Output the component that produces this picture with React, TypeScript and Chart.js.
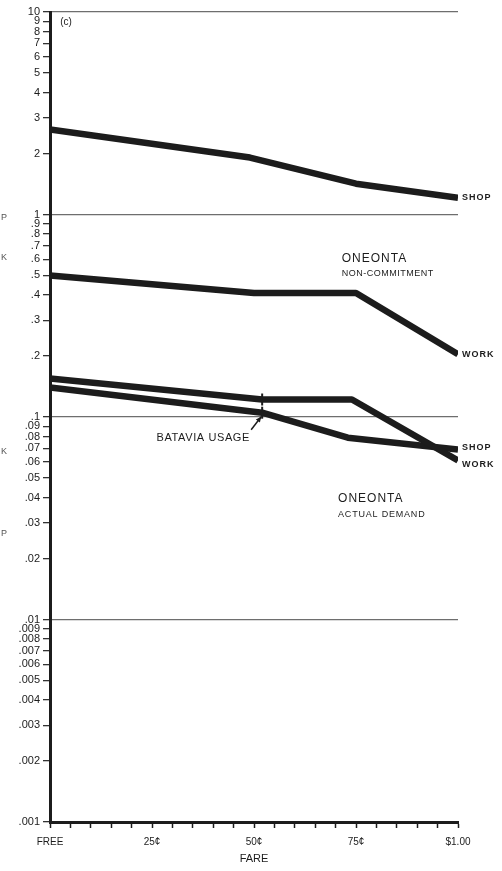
import React, { useEffect, useRef } from "react";
import { Chart, registerables } from "chart.js";

Chart.register(...registerables);

// ---- data ----
const xTickValues = [0, 5, 10, 15, 20, 25, 30, 35, 40, 45, 50, 55, 60, 65, 70, 75, 80, 85, 90, 95, 100];
const xTickLabelMap: Record<number, string> = { 0: "FREE", 25: "25¢", 50: "50¢", 75: "75¢", 100: "$1.00" };

const yTickValues = [
  0.001, 0.002, 0.003, 0.004, 0.005, 0.006, 0.007, 0.008, 0.009,
  0.01, 0.02, 0.03, 0.04, 0.05, 0.06, 0.07, 0.08, 0.09,
  0.1, 0.2, 0.3, 0.4, 0.5, 0.6, 0.7, 0.8, 0.9,
  1, 2, 3, 4, 5, 6, 7, 8, 9, 10,
];
const yTickLabels = [
  ".001", ".002", ".003", ".004", ".005", ".006", ".007", ".008", ".009",
  ".01", ".02", ".03", ".04", ".05", ".06", ".07", ".08", ".09",
  ".1", ".2", ".3", ".4", ".5", ".6", ".7", ".8", ".9",
  "1", "2", "3", "4", "5", "6", "7", "8", "9", "10",
];

// Oneonta non-commitment
const faresShopNC = [0, 49, 75, 100];
const valuesShopNC = [2.63, 1.91, 1.42, 1.21];
const faresWorkNC = [0, 50, 75, 100];
const valuesWorkNC = [0.5, 0.41, 0.41, 0.204];
// Oneonta actual demand
const faresWorkAD = [0, 52, 74, 100];
const valuesWorkAD = [0.155, 0.122, 0.122, 0.061];
const faresShopAD = [0, 52, 73, 100];
const valuesShopAD = [0.14, 0.105, 0.079, 0.069];
// Batavia usage marks
const faresBatavia = [52, 52];
const valuesBatavia = [0.122, 0.105];

const toPts = (xs: number[], ys: number[]) => xs.map((x, i) => ({ x, y: ys[i] }));

const FONT = "'Liberation Sans', Arial, sans-serif";
const INK = "#1c1c1c";

const annotationPlugin = {
  id: "annotations",
  afterDatasetsDraw(chart: any) {
    const ctx = chart.ctx as CanvasRenderingContext2D;
    const xs = chart.scales.x;
    const ys = chart.scales.y;
    const px = (v: number) => xs.getPixelForValue(v);
    const py = (v: number) => ys.getPixelForValue(v);
    ctx.save();
    ctx.fillStyle = INK;
    ctx.textBaseline = "middle";

    const text = (t: string, x: number, y: number, size: number, weight = "normal", spacing = "0px", align: CanvasTextAlign = "left") => {
      ctx.font = `${weight} ${size}px ${FONT}`;
      (ctx as any).letterSpacing = spacing;
      ctx.textAlign = align;
      ctx.fillText(t, x, y);
    };

    text("(c)", px(2.5), py(8.9), 10);

    const endX = px(100) + 4;
    text("SHOP", endX, py(valuesShopNC[3]), 9, "bold", "1px");
    text("WORK", endX, py(valuesWorkNC[3]), 9, "bold", "1px");
    text("SHOP", endX, py(0.0707), 9, "bold", "1px");
    text("WORK", endX, py(0.0583), 9, "bold", "1px");

    text("ONEONTA", px(71.5), py(0.607), 12, "normal", "1px");
    text("NON-COMMITMENT", px(71.5), py(0.511), 9, "normal", "0.5px");
    text("ONEONTA", px(70.6), py(0.0396), 12, "normal", "1px");
    text("ACTUAL DEMAND", px(70.6), py(0.033), 9, "normal", "0.8px");

    text("BATAVIA USAGE", px(49), py(0.0792), 11, "normal", "0.6px", "right");

    // arrow to batavia usage
    const bx = px(faresBatavia[1]);
    const by = py(valuesBatavia[1]);
    const x0 = bx - 11, y0 = by + 17, x1 = bx - 1, y1 = by + 4;
    ctx.strokeStyle = INK;
    ctx.lineWidth = 1.5;
    ctx.beginPath();
    ctx.moveTo(x0, y0);
    ctx.lineTo(x1, y1);
    ctx.stroke();
    const ang = Math.atan2(y1 - y0, x1 - x0);
    ctx.beginPath();
    ctx.moveTo(x1, y1);
    ctx.lineTo(x1 - 6 * Math.cos(ang - 0.45), y1 - 6 * Math.sin(ang - 0.45));
    ctx.lineTo(x1 - 6 * Math.cos(ang + 0.45), y1 - 6 * Math.sin(ang + 0.45));
    ctx.closePath();
    ctx.fill();

    // cropped fragments from the neighbouring panel at the left edge
    ctx.fillStyle = "#555";
    text("P", 1, 218, 9);
    text("K", 1, 258, 9);
    text("K", 1, 452, 9);
    text("P", 1, 534, 9);
    ctx.restore();
  },
};

export default function App() {
  const ref = useRef<HTMLCanvasElement | null>(null);

  useEffect(() => {
    if (!ref.current) return;
    const isDecade = (v: number) => Math.abs(Math.log10(v) - Math.round(Math.log10(v))) < 1e-6;
    const lineDs = (data: any[]) => ({
      type: "line" as const,
      data,
      borderColor: INK,
      backgroundColor: INK,
      borderWidth: 6.5,
      pointRadius: 0,
      tension: 0,
      borderJoinStyle: "round" as const,
      fill: false,
    });
    const chart = new Chart(ref.current, {
      type: "line",
      data: {
        datasets: [
          lineDs(toPts(faresShopNC, valuesShopNC)),
          lineDs(toPts(faresWorkNC, valuesWorkNC)),
          lineDs(toPts(faresWorkAD, valuesWorkAD)),
          lineDs(toPts(faresShopAD, valuesShopAD)),
          {
            type: "scatter" as const,
            data: toPts(faresBatavia, valuesBatavia),
            pointStyle: "line",
            rotation: 90,
            pointRadius: 6,
            borderWidth: 2,
            borderColor: INK,
            backgroundColor: INK,
            showLine: false,
          } as any,
        ],
      },
      options: {
        responsive: false,
        animation: false,
        devicePixelRatio: 1,
        layout: { padding: { top: 12, right: 44, left: 0, bottom: 0 } },
        plugins: { legend: { display: false }, tooltip: { enabled: false } },
        scales: {
          x: {
            type: "linear",
            min: 0,
            max: 100,
            afterBuildTicks: (s: any) => {
              s.ticks = xTickValues.map((v) => ({ value: v }));
            },
            afterFit: (s: any) => {
              s.height = 49;
            },
            ticks: {
              autoSkip: false,
              maxRotation: 0,
              padding: 8,
              color: INK,
              font: { family: FONT, size: 10 },
              callback: (v: any) => xTickLabelMap[Number(v)] ?? "",
            },
            grid: {
              drawOnChartArea: false,
              color: "rgba(0,0,0,0)",
              tickColor: INK,
              tickLength: 6,
              tickWidth: 1.5,
            },
            border: { display: true, color: INK, width: 3 },
            title: {
              display: true,
              text: "FARE",
              color: INK,
              font: { family: FONT, size: 11 },
              padding: { top: 0, bottom: 5 },
            },
          },
          y: {
            type: "logarithmic",
            min: 0.001,
            max: 10,
            afterBuildTicks: (s: any) => {
              s.ticks = yTickValues.map((v) => ({ value: v }));
            },
            afterFit: (s: any) => {
              s.width = 50;
            },
            ticks: {
              autoSkip: false,
              padding: 3,
              color: INK,
              font: { family: FONT, size: 11 },
              callback: (_v: any, i: number) => yTickLabels[i],
            },
            grid: {
              drawOnChartArea: true,
              color: (c: any) => (c.tick && isDecade(c.tick.value) ? "#6e6e6e" : "rgba(0,0,0,0)"),
              lineWidth: 1.3,
              tickColor: "#333",
              tickLength: 7,
              tickWidth: 1.3,
            },
            border: { display: true, color: INK, width: 3 },
          },
        },
      },
      plugins: [annotationPlugin],
    });
    return () => chart.destroy();
  }, []);

  return (
    <div style={{ position: "fixed", left: 0, top: 0, width: 502, height: 871, background: "#fff" }}>
      <canvas ref={ref} width={502} height={871} style={{ display: "block", width: 502, height: 871 }} />
    </div>
  );
}
